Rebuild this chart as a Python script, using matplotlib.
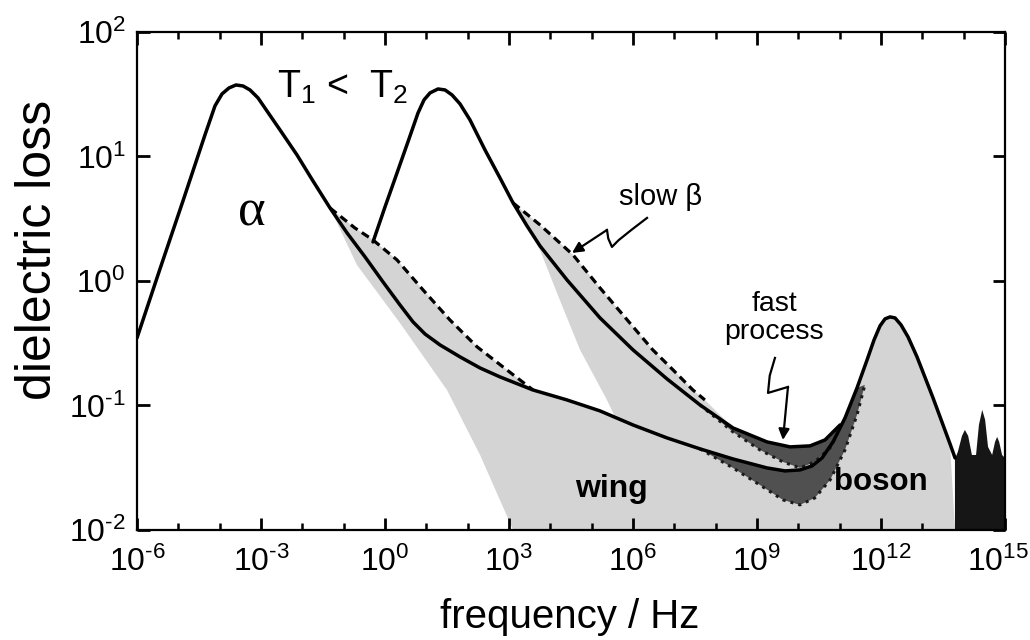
import numpy as np
import matplotlib
matplotlib.use('Agg')
import matplotlib.pyplot as plt
import matplotlib.transforms as mtransforms
from matplotlib.ticker import FuncFormatter, NullFormatter, NullLocator

# values: log10(frequency / Hz) and log10(dielectric loss)
t1_logf = [-6.000, -5.444, -4.887, -4.355, -4.113, -3.943, -3.774, -3.605, -3.435, -3.266, -3.072,
           -2.855, -2.540, -2.129, -1.742, -1.330, -0.919, -0.483, -0.048, 0.363, 0.678, 0.968, 1.331,
           1.815, 2.299, 2.783, 3.581, 4.404, 5.202, 6.001, 6.823, 7.622, 8.420, 9.243, 9.679, 10.042,
           10.332, 10.574, 10.840, 11.131, 11.421, 11.663, 11.832, 11.977, 12.098, 12.219, 12.340,
           12.485, 12.655, 12.872, 13.260, 13.671, 13.792]
t1_logeps = [-0.458, 0.096, 0.643, 1.173, 1.406, 1.502, 1.550, 1.574, 1.566, 1.534, 1.470,
             1.365, 1.213, 1.012, 0.803, 0.586, 0.386, 0.193, -0.008, -0.193, -0.329, -0.426, -0.514,
             -0.610, -0.699, -0.771, -0.876, -0.956, -1.044, -1.157, -1.261, -1.349, -1.430, -1.502,
             -1.526, -1.518, -1.486, -1.422, -1.293, -1.100, -0.859, -0.635, -0.474, -0.361, -0.305,
             -0.289, -0.297, -0.353, -0.450, -0.610, -0.940, -1.309, -1.422]

t2_logf = [-0.290, 0.000, 0.291, 0.581, 0.799, 0.944, 1.089, 1.283, 1.452, 1.622, 1.815, 2.057,
           2.420, 2.783, 3.098, 3.436, 3.751, 4.404, 5.202, 6.001, 6.823, 7.622, 8.420, 9.243, 9.800,
           10.284, 10.647, 11.010]
t2_logeps = [0.313, 0.594, 0.867, 1.141, 1.349, 1.454, 1.510, 1.542, 1.534, 1.494, 1.422, 1.293,
             1.052, 0.827, 0.627, 0.442, 0.281, 0.008, -0.297, -0.554, -0.787, -0.996, -1.181, -1.293,
             -1.333, -1.325, -1.277, -1.157]

# slow beta (dashed) curves
b1_logf = [-1.330, -0.73, -0.29, 0.29, 0.92, 1.57, 2.23, 2.95, 3.581]
b1_logeps = [0.586, 0.426, 0.329, 0.169, -0.072, -0.313, -0.530, -0.715, -0.876]
b2_logf = [3.098, 3.751, 4.55, 5.202, 5.86, 6.48, 6.97, 7.45, 7.74]
b2_logeps = [0.627, 0.450, 0.209, -0.056, -0.313, -0.554, -0.715, -0.876, -0.956]

# pure alpha tails (left edge of the wing shading)
a1_logf = [-1.330, -0.68, 0.36, 1.50, 2.30, 3.10]
a1_logeps = [0.586, 0.129, -0.337, -0.876, -1.398, -2.0]
a2_logf = [3.098, 3.75, 4.23, 4.72, 5.37, 6.17, 6.90]
a2_logeps = [0.627, 0.249, -0.153, -0.554, -0.956, -1.518, -2.0]

# curves without the fast process (lower edge of the dark bands)
f1_logf = [7.622, 8.42, 9.07, 9.63, 10.04, 10.40, 10.77, 11.13, 11.42, 11.61]
f1_logeps = [-1.349, -1.502, -1.639, -1.759, -1.799, -1.743, -1.598, -1.357, -1.076, -0.835]
f2_logf = [7.622, 8.42, 9.07, 9.63, 10.04, 10.40, 10.77, 11.01]
f2_logeps = [-0.996, -1.213, -1.357, -1.454, -1.502, -1.454, -1.341, -1.181]

# high frequency (infrared) part
ir_logf = [13.79, 13.86, 13.96, 14.03, 14.11, 14.20, 14.30, 14.37, 14.45, 14.52, 14.59, 14.69,
           14.76, 14.81, 14.86, 14.93, 15.0]
ir_logeps = [-1.43, -1.373, -1.245, -1.197, -1.245, -1.398, -1.398, -1.157, -1.036, -1.116, -1.333,
             -1.398, -1.293, -1.253, -1.293, -1.398, -1.422]

plt.rcParams['font.family'] = ['Liberation Sans', 'DejaVu Sans']
plt.rcParams['mathtext.fontset'] = 'custom'
plt.rcParams['mathtext.rm'] = 'Liberation Sans'
plt.rcParams['mathtext.it'] = 'Liberation Sans'
plt.rcParams['axes.unicode_minus'] = False


def xy(lf, le):
    return 10.0 ** np.asarray(lf), 10.0 ** np.asarray(le)


def seg(lf, le, lo, hi):
    lf, le = np.asarray(lf), np.asarray(le)
    m = (lf >= lo - 1e-9) & (lf <= hi + 1e-9)
    return lf[m], le[m]


def decade(v, pos):
    e = int(round(np.log10(v)))
    s = str(e).replace('-', '\u2010')
    return r'$\mathdefault{10^{%s}}$' % s


light = '#d4d4d4'
dark = '#505050'

fig = plt.figure(figsize=(10.3, 6.4), dpi=100)
ax = fig.add_axes([0.133, 0.172, 0.8427, 0.7781])

# wing + boson shading for T1
uf, ue = seg(t1_logf, t1_logeps, b1_logf[-1], ir_logf[0])
px = np.concatenate([a1_logf, [ir_logf[0]], uf[::-1], b1_logf[::-1]])
py = np.concatenate([a1_logeps, [-2.0], ue[::-1], b1_logeps[::-1]])
ax.fill(*xy(px, py), color=light, lw=0, zorder=1)

# wing shading for T2
uf, ue = seg(t2_logf, t2_logeps, b2_logf[-1], t2_logf[-1])
px = np.concatenate([a2_logf, [t2_logf[-1]], uf[::-1], b2_logf[::-1]])
py = np.concatenate([a2_logeps, [-2.0], ue[::-1], b2_logeps[::-1]])
ax.fill(*xy(px, py), color=light, lw=0, zorder=1)

# fast process bands
uf, ue = seg(t1_logf, t1_logeps, f1_logf[0], f1_logf[-1])
ax.fill(*xy(np.concatenate([uf, f1_logf[::-1]]), np.concatenate([ue, f1_logeps[::-1]])),
        color=dark, lw=0, zorder=2)
uf, ue = seg(t2_logf, t2_logeps, f2_logf[0], f2_logf[-1])
ax.fill(*xy(np.concatenate([uf, f2_logf[::-1]]), np.concatenate([ue, f2_logeps[::-1]])),
        color=dark, lw=0, zorder=2)
ax.plot(*xy(f1_logf, f1_logeps), color='#1a1a1a', lw=2.2, ls=':', zorder=3)
ax.plot(*xy(f2_logf, f2_logeps), color='#1a1a1a', lw=2.2, ls=':', zorder=3)

# infrared region
ax.fill(*xy(np.concatenate([[ir_logf[0]], ir_logf, [ir_logf[-1]]]),
            np.concatenate([[-2.0], ir_logeps, [-2.0]])), color='#161616', lw=0, zorder=2)

# curves
ax.plot(*xy(b1_logf, b1_logeps), color='k', lw=2.3, ls=(0, (2.6, 1.6)), zorder=4)
ax.plot(*xy(b2_logf, b2_logeps), color='k', lw=2.3, ls=(0, (2.6, 1.6)), zorder=4)
ax.plot(*xy(t1_logf, t1_logeps), color='k', lw=2.5, zorder=5, solid_capstyle='round',
        solid_joinstyle='round')
ax.plot(*xy(t2_logf, t2_logeps), color='k', lw=2.5, zorder=5, solid_capstyle='round',
        solid_joinstyle='round')

ax.set_xscale('log')
ax.set_yscale('log')
ax.set_xlim(1e-6, 1e15)
ax.set_ylim(1e-2, 1e2)
ax.set_xticks([10.0 ** k for k in range(-6, 16, 3)])
ax.set_xticks([10.0 ** k for k in range(-6, 16)], minor=True)
ax.xaxis.set_major_formatter(FuncFormatter(decade))
ax.xaxis.set_minor_formatter(NullFormatter())
ax.set_yticks([10.0 ** k for k in range(-2, 3)])
ax.yaxis.set_major_formatter(FuncFormatter(decade))
ax.yaxis.set_minor_locator(NullLocator())
ax.tick_params(which='both', direction='in', top=True, right=True, labelsize=23, pad=8)
ax.tick_params(axis='x', which='major', pad=12)
ax.tick_params(which='major', length=9, width=2)
ax.tick_params(which='minor', length=5, width=1.8)
for s in ax.spines.values():
    s.set_linewidth(1.6)
    s.set_zorder(6)

# keep the last frequency label inside the picture, as in the original
last = ax.get_xticklabels()[-1]
last.set_transform(last.get_transform() + mtransforms.ScaledTranslation(-5 / 72, 0, fig.dpi_scale_trans))

ax.set_xlabel('frequency / Hz', fontsize=29)
ax.xaxis.set_label_coords(0.499, -0.137)
ax.set_ylabel('dielectric loss', fontsize=36)
ax.yaxis.set_label_coords(-0.088, 0.562)

# annotations
ax.text(0.161, 0.867, r'T$_1$ <  T$_2$', transform=ax.transAxes, fontsize=27, ha='left', va='baseline')
ax.text(0.1325, 0.6365, 'α', transform=ax.transAxes, fontsize=38, family='Liberation Serif',
        ha='center', va='center')
ax.text(0.6037, 0.6687, 'slow β', transform=ax.transAxes, fontsize=21, ha='center', va='center')
ax.text(0.734, 0.4257, 'fast\nprocess', transform=ax.transAxes, fontsize=20.5, ha='center', va='center',
        linespacing=1.1)
ax.text(0.547, 0.0823, 'wing', transform=ax.transAxes, fontsize=23, fontweight='bold',
        ha='center', va='center', zorder=7)
ax.text(0.857, 0.0964, 'boson', transform=ax.transAxes, fontsize=22.5, fontweight='bold',
        ha='center', va='center', zorder=7)

# squiggly arrows
ax.plot([0.5876, 0.570, 0.555, 0.5472, 0.5430, 0.5415], [0.6265, 0.603, 0.582, 0.5683, 0.585, 0.6024],
        transform=ax.transAxes, color='k', lw=1.6, solid_joinstyle='round')
ax.annotate('', xy=(0.5012, 0.5562), xytext=(0.5415, 0.6024), xycoords='axes fraction',
            arrowprops=dict(arrowstyle='-|>', color='k', lw=1.6, mutation_scale=16, shrinkA=0, shrinkB=0))
ax.plot([0.735, 0.729, 0.727, 0.75], [0.3454, 0.31, 0.2751, 0.2871], transform=ax.transAxes,
        color='k', lw=1.6, solid_joinstyle='round')
ax.annotate('', xy=(0.7442, 0.1807), xytext=(0.75, 0.2871), xycoords='axes fraction',
            arrowprops=dict(arrowstyle='-|>', color='k', lw=1.6, mutation_scale=16, shrinkA=0, shrinkB=0))

fig.savefig('out.png', dpi=100)
